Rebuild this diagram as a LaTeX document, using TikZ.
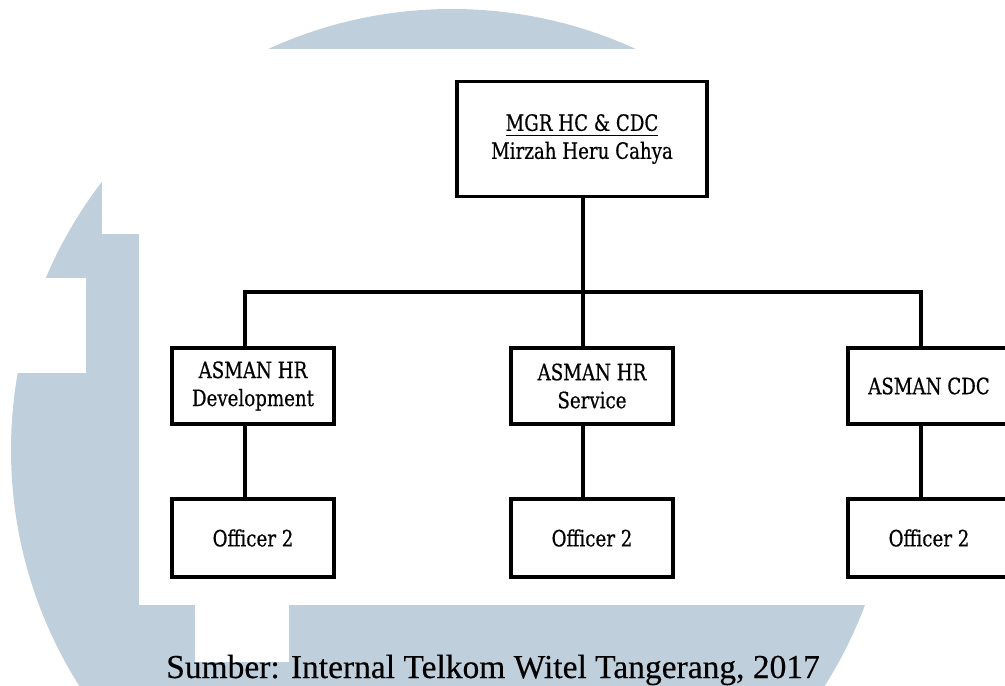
\documentclass[tikz,border=0pt]{standalone}
\usepackage{fontspec}
\setmainfont{Liberation Serif}
\newfontfamily\capfont[FakeBold=0.3]{Liberation Serif}
\newfontfamily\boxfont[FakeStretch=0.9,FakeBold=0.5]{DejaVu Serif Condensed}
\newcommand\myul[1]{\setbox0\hbox{#1}\rlap{\rule[-5.4pt]{\wd0}{1.4pt}}\box0}
\definecolor{wm}{RGB}{191,207,220}
\begin{document}
\begin{tikzpicture}[x=1pt,y=-1pt,
  box/.style={draw=black, line width=3.2pt, fill=white, minimum width=162pt,
    minimum height=76pt, inner sep=0pt, align=center,
    font=\boxfont\fontsize{22.5}{28}\selectfont},
  conn/.style={line width=3.2pt, line cap=rect}]
\useasboundingbox (0,0) rectangle (1005,686);
% watermark
\fill[wm] (452,450) circle[radius=441];
\fill[white] (139,49) rectangle (1012,605);
\fill[white] (102,49) rectangle (139,234);
\fill[white] (0,278) rectangle (86,373);
\fill[white] (195,605) rectangle (289,662);
% nodes
\node[box, minimum width=250pt, minimum height=115pt] (top) at (582,139)
  {\myul{MGR HC \& CDC}\\Mirzah Heru Cahya};
\node[box] (a1) at (253,386) {ASMAN HR\\Development};
\node[box] (a2) at (592,386) {ASMAN HR\\Service};
\node[box] (a3) at (929,386) {ASMAN CDC};
\node[box, minimum height=78pt] (o1) at (253,538) {Officer 2};
\node[box, minimum height=78pt] (o2) at (592,538) {Officer 2};
\node[box, minimum height=78pt] (o3) at (929,538) {Officer 2};
\coordinate (j1) at (245,292);
\coordinate (j2) at (583,292);
\coordinate (j3) at (921,292);
% connectors
\draw[conn] (top.south -| j2) -- (j2);
\draw[conn, line join=miter] (j1 |- a1.north) -- (j1) -- (j3) -- (j3 |- a3.north);
\draw[conn] (j2) -- (j2 |- a2.north);
\draw[conn] (j1 |- a1.south) -- (j1 |- o1.north);
\draw[conn] (j2 |- a2.south) -- (j2 |- o2.north);
\draw[conn] (j3 |- a3.south) -- (j3 |- o3.north);
% caption
\node[anchor=base, font=\capfont\fontsize{33.5}{40}\selectfont] (cap) at (493,678)
  {Sumber: Internal Telkom Witel Tangerang, 2017};
\end{tikzpicture}
\end{document}
